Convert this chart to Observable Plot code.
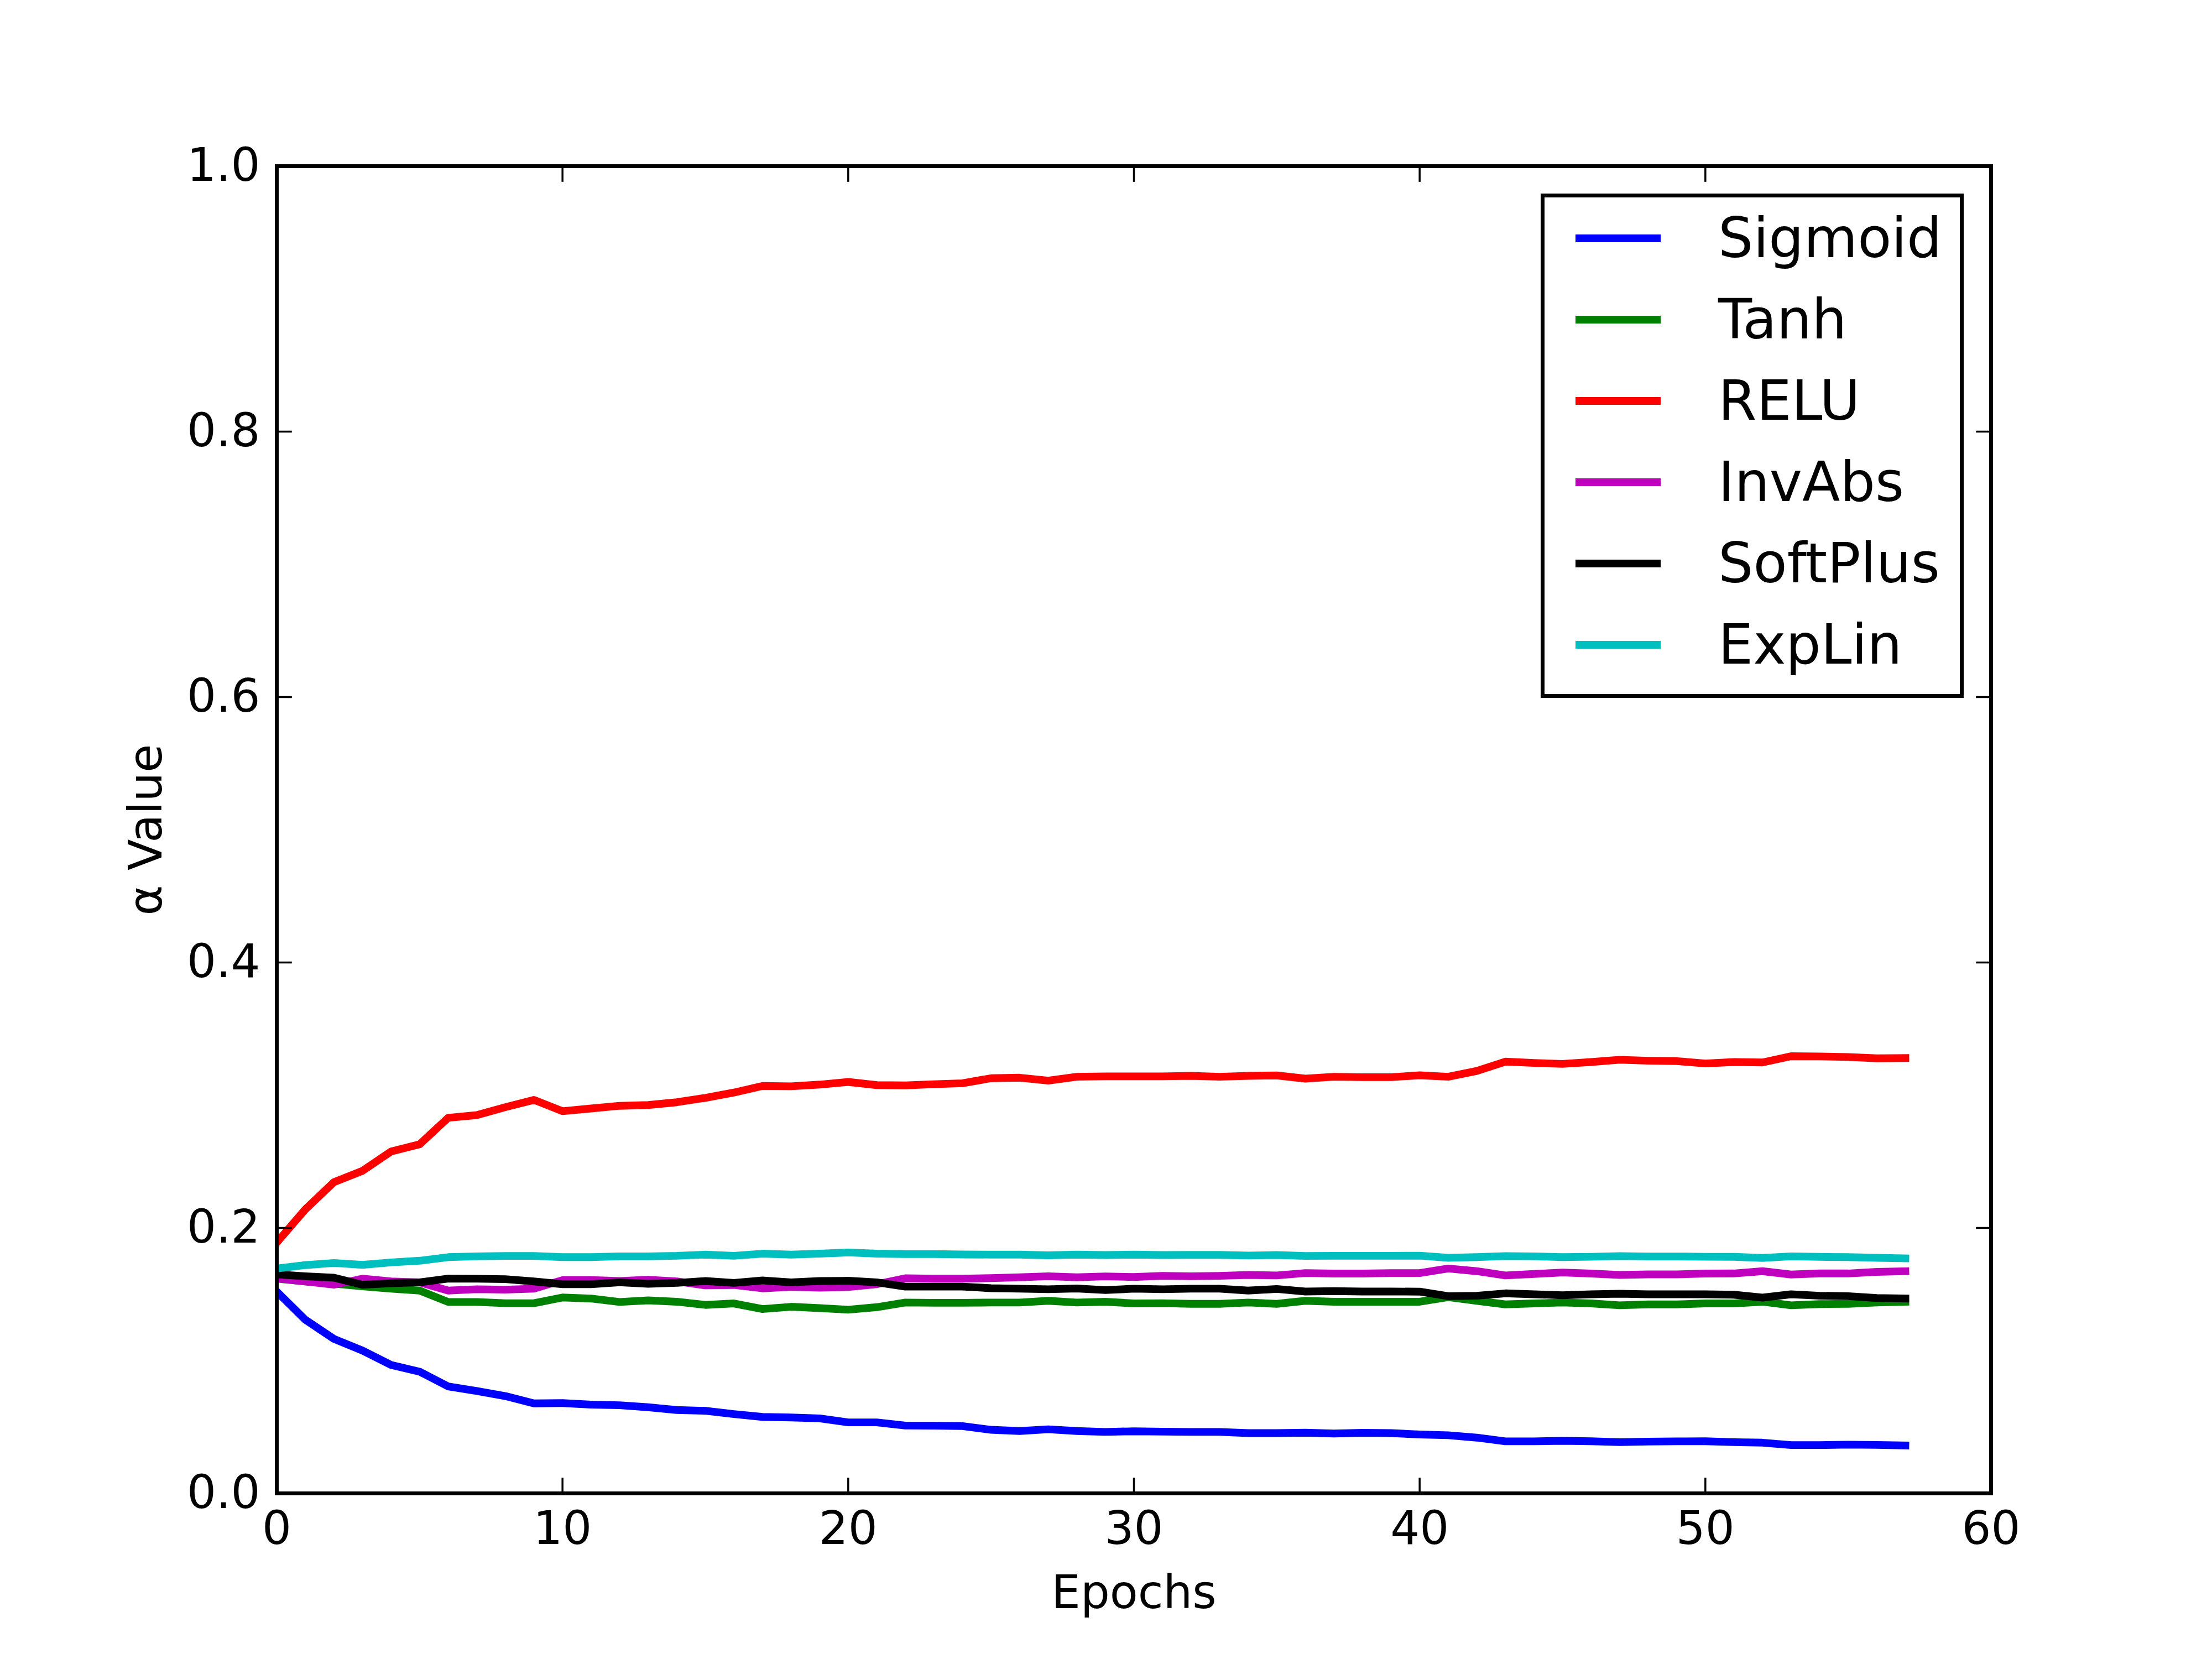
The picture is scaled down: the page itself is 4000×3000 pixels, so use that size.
<!DOCTYPE html>
<html><head><meta charset="utf-8">
<script src="https://cdn.jsdelivr.net/npm/d3@7"></script>
<script src="https://cdn.jsdelivr.net/npm/@observablehq/plot@0.6"></script>
<style>
html,body{margin:0;padding:0;background:#fff;}
#wrap{position:relative;width:4000px;height:3000px;font-family:"DejaVu Sans",sans-serif;}
#legend{position:absolute;left:2786px;top:350px;width:765px;height:912px;box-sizing:border-box;border:7px solid #000;background:#fff;}
.row{display:flex;align-items:center;height:147px;}
.sw{width:154px;height:14px;margin-left:56px;margin-right:104px;flex:none;}
.lab{font-size:100px;line-height:1;color:#000;white-space:nowrap;}
</style></head><body><div id="wrap"></div>
<script>
const epochs = [0,1,2,3,4,5,6,7,8,9,10,11,12,13,14,15,16,17,18,19,20,21,22,23,24,25,26,27,28,29,30,31,32,33,34,35,36,37,38,39,40,41,42,43,44,45,46,47,48,49,50,51,52,53,54,55,56,57];

const sigmoid = [0.152,0.1308,0.1164,0.1076,0.0968,0.0917,0.0806,0.0771,0.0733,0.0678,0.068,0.0669,0.0664,0.0649,0.0628,0.0622,0.0597,0.0576,0.0572,0.0565,0.0535,0.0535,0.0511,0.051,0.0507,0.0479,0.047,0.0483,0.047,0.0463,0.0468,0.0465,0.0463,0.0463,0.0454,0.0454,0.0457,0.0451,0.0456,0.0454,0.0444,0.0438,0.042,0.0392,0.0392,0.0396,0.0393,0.0386,0.039,0.0392,0.0393,0.0386,0.0382,0.0364,0.0364,0.0367,0.0365,0.0361];

const tanh = [0.1618,0.1597,0.158,0.156,0.1542,0.1528,0.1442,0.1442,0.1433,0.1433,0.1476,0.1468,0.1442,0.1454,0.1444,0.142,0.1431,0.1389,0.1406,0.1396,0.1384,0.1403,0.1438,0.1436,0.1436,0.1438,0.1438,0.1451,0.1438,0.1444,0.1431,0.1433,0.1428,0.1428,0.1438,0.1428,0.1451,0.1444,0.1444,0.1444,0.1444,0.1479,0.1451,0.1424,0.1431,0.1438,0.1431,0.1417,0.1424,0.1424,0.1431,0.1431,0.1444,0.1417,0.1426,0.1428,0.1438,0.1444];

const relu = [0.189,0.214,0.2345,0.243,0.2576,0.263,0.283,0.285,0.291,0.2965,0.288,0.29,0.292,0.2926,0.2947,0.298,0.302,0.307,0.3067,0.308,0.31,0.3076,0.3074,0.3083,0.309,0.3128,0.3132,0.311,0.3139,0.3142,0.3142,0.3142,0.3146,0.3139,0.3146,0.3149,0.3125,0.3139,0.3136,0.3136,0.315,0.3139,0.3183,0.3253,0.3243,0.3236,0.325,0.3267,0.326,0.3257,0.3239,0.325,0.3247,0.3294,0.3292,0.3288,0.3278,0.328];

const invabs = [0.162,0.1597,0.1572,0.1618,0.1597,0.159,0.1528,0.1538,0.1535,0.1542,0.1607,0.1607,0.16,0.161,0.1597,0.1567,0.157,0.1545,0.1556,0.155,0.1555,0.1576,0.1621,0.1618,0.1618,0.1622,0.1628,0.1636,0.1628,0.1635,0.163,0.1639,0.1636,0.1639,0.1646,0.1642,0.166,0.1656,0.1656,0.166,0.166,0.1694,0.1674,0.1642,0.1653,0.1664,0.1656,0.1646,0.165,0.165,0.1656,0.1657,0.1674,0.1649,0.1657,0.1657,0.1669,0.1674];

const softplus = [0.165,0.1636,0.1625,0.1572,0.1583,0.159,0.1618,0.1617,0.1614,0.1597,0.1576,0.1576,0.159,0.1579,0.1586,0.16,0.1586,0.1604,0.159,0.16,0.1602,0.159,0.1558,0.1558,0.1558,0.1546,0.1542,0.1538,0.1544,0.1532,0.1542,0.1538,0.1542,0.1542,0.1528,0.154,0.1521,0.1524,0.1521,0.1521,0.152,0.1486,0.1489,0.1507,0.15,0.1493,0.15,0.1504,0.15,0.15,0.15,0.1497,0.1475,0.15,0.1489,0.1486,0.1472,0.1468];

const explin = [0.1694,0.172,0.1736,0.1722,0.174,0.1753,0.178,0.1786,0.1789,0.1789,0.178,0.178,0.1786,0.1786,0.179,0.1799,0.179,0.1806,0.1799,0.1806,0.1815,0.1806,0.1803,0.1803,0.18,0.1799,0.1799,0.1794,0.1799,0.1796,0.1799,0.1796,0.1797,0.1797,0.1792,0.1796,0.1789,0.179,0.179,0.179,0.1791,0.1775,0.178,0.1788,0.1786,0.178,0.1783,0.1788,0.1785,0.1785,0.1783,0.1782,0.1774,0.1786,0.1782,0.178,0.1775,0.1771];

const seriesNames = ["Sigmoid","Tanh","RELU","InvAbs","SoftPlus","ExpLin"];
const seriesValues = [sigmoid, tanh, relu, invabs, softplus, explin];
const seriesColors = ["#0000ff","#008000","#ff0000","#bf00bf","#000000","#00bfbf"];

const xTicks = [0,10,20,30,40,50,60];
const yTicks = [0,0.2,0.4,0.6,0.8,1.0];
const xLabel = "Epochs";
const yLabel = "\u03b1 Value";

const LW = 13.9;      // 2pt line at 500 dpi
const TICK = 27.8;    // 4pt tick length
const FS = 83.3;      // 12pt font

const lineMarks = seriesNames.map((name, k) =>
  Plot.line(epochs.map((e, i) => ({epoch: e, value: seriesValues[k][i]})), {
    x: "epoch", y: "value",
    stroke: seriesColors[k], strokeWidth: LW,
    strokeLinejoin: "round", strokeLinecap: "square",
    clip: true
  })
);

const chart = Plot.plot({
  width: 4000, height: 3000,
  marginLeft: 500, marginRight: 400, marginTop: 300, marginBottom: 300,
  style: {fontFamily: "DejaVu Sans", fontSize: FS + "px", background: "#fff", color: "#000", overflow: "visible"},
  x: {domain: [0, 60]},
  y: {domain: [0, 1]},
  marks: [
    ...lineMarks,
    Plot.frame({stroke: "#000", strokeWidth: 6.94}),
    Plot.axisX({ticks: xTicks, anchor: "bottom", tickSize: -TICK, tickPadding: TICK + 32, strokeWidth: 3.5, tickFormat: d => String(d), fontSize: FS, label: null}),
    Plot.axisX({ticks: xTicks, anchor: "top", tickSize: -TICK, strokeWidth: 3.5, tickFormat: () => "", label: null}),
    Plot.axisY({ticks: yTicks, anchor: "left", tickSize: -TICK, tickPadding: TICK + 30, strokeWidth: 3.5, tickFormat: d3.format(".1f"), fontSize: FS, label: null}),
    Plot.axisY({ticks: yTicks, anchor: "right", tickSize: -TICK, strokeWidth: 3.5, tickFormat: () => "", label: null}),
    Plot.text([xLabel], {frameAnchor: "bottom", dy: 181, textAnchor: "middle", lineAnchor: "middle", fontSize: FS, text: d => d, fill: "#000"}),
    Plot.text([yLabel], {frameAnchor: "left", dx: -235, rotate: -90, textAnchor: "middle", lineAnchor: "middle", fontSize: FS, text: d => d, fill: "#000"})
  ]
});

const wrap = document.getElementById("wrap");
wrap.appendChild(chart);

const legend = document.createElement("div");
legend.id = "legend";
seriesNames.forEach((name, k) => {
  const row = document.createElement("div");
  row.className = "row";
  const sw = document.createElement("div");
  sw.className = "sw";
  sw.style.background = seriesColors[k];
  const lab = document.createElement("span");
  lab.className = "lab";
  lab.textContent = name;
  row.appendChild(sw);
  row.appendChild(lab);
  legend.appendChild(row);
});
wrap.appendChild(legend);
</script>
</body></html>
